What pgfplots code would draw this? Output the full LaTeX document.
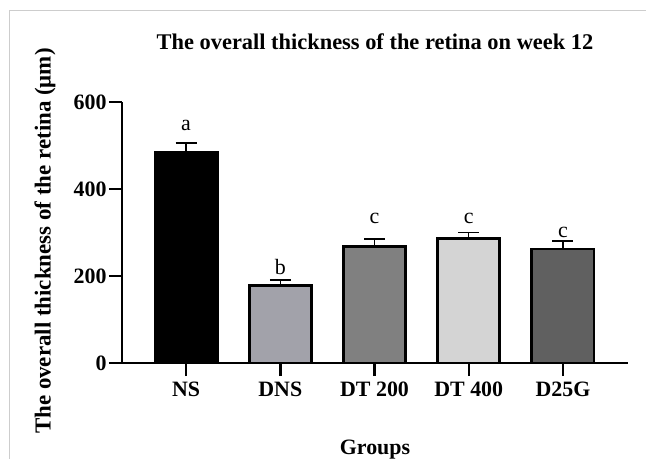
\documentclass[border=0pt]{standalone}
\usepackage{pgfplots}
\pgfplotsset{compat=1.18}
\usepackage{fontspec}
\setmainfont{Liberation Serif}
\definecolor{cNS}{RGB}{0,0,0}
\definecolor{cDNS}{RGB}{162,162,170}
\definecolor{cDTa}{RGB}{128,128,128}
\definecolor{cDTb}{RGB}{212,212,212}
\definecolor{cDG}{RGB}{96,96,96}
\definecolor{frame}{RGB}{205,205,205}
\begin{document}
\begin{tikzpicture}
\useasboundingbox (0,0) rectangle (646bp,459bp);
\draw[frame, line width=1bp] (9bp,0) -- (9bp,448bp) -- (646bp,448bp);
\begin{axis}[
  at={(122bp,96bp)}, anchor=south west,
  scale only axis, width=506bp, height=261bp,
  xmin=-0.68, xmax=4.69, ymin=0, ymax=600,
  axis lines*=left,
  axis line style={line width=2.6bp},
  xtick={0,1,2,3,4},
  xticklabels={NS,DNS,DT 200,DT 400,D25G},
  ytick={0,200,400,600},
  tick style={line width=2.4bp, black},
  tick align=outside,
  major tick length=13bp,
  /pgf/number format/assume math mode=true,
  ticklabel style={font=\fontsize{22}{24}\selectfont\bfseries},
  xticklabel style={yshift=-2bp},
  yticklabel style={xshift=1bp},
  title={The overall thickness of the retina on week 12},
  title style={font=\fontsize{22.5}{24}\selectfont\bfseries, at={(axis description cs:0.5,1.207)}, anchor=center},
  ylabel={The overall thickness of the retina (μm)},
  xlabel={Groups},
  every axis y label/.style={at={(axis description cs:-0.152,0.467)}, rotate=90, anchor=center, font=\fontsize{23}{25}\selectfont\bfseries},
  every axis x label/.style={at={(axis description cs:0.5,-0.33)}, anchor=center, font=\fontsize{22}{24}\selectfont\bfseries},
  ybar, bar width=0.66, bar shift=0,
  error bars/y dir=plus, error bars/y explicit,
  error bars/error bar style={line width=1.4bp, black},
  error bars/error mark options={rotate=90, mark size=10.5bp, line width=1.4bp, black},
  clip=false,
]
\addplot[fill=cNS, draw=black, line width=2.8bp] coordinates {(0,485) +- (0,21)};
\addplot[fill=cDNS, draw=black, line width=2.8bp] coordinates {(1,179) +- (0,12)};
\addplot[fill=cDTa, draw=black, line width=2.8bp] coordinates {(2,267) +- (0,18)};
\addplot[fill=cDTb, draw=black, line width=2.8bp] coordinates {(3,287) +- (0,13)};
\addplot[fill=cDG, draw=black, line width=2.8bp] coordinates {(4,262) +- (0,18)};
\addplot[draw=none, mark=none, ybar=0pt, bar width=0, fill=none,
  nodes near coords, point meta=explicit symbolic,
  nodes near coords style={anchor=center, font=\fontsize{22}{24}\selectfont, yshift=0pt, black}]
  coordinates {(0,547)[a] (1,221)[b] (2,333)[c] (3,333)[c] (4,301)[c]};
\end{axis}
\end{tikzpicture}
\end{document}
